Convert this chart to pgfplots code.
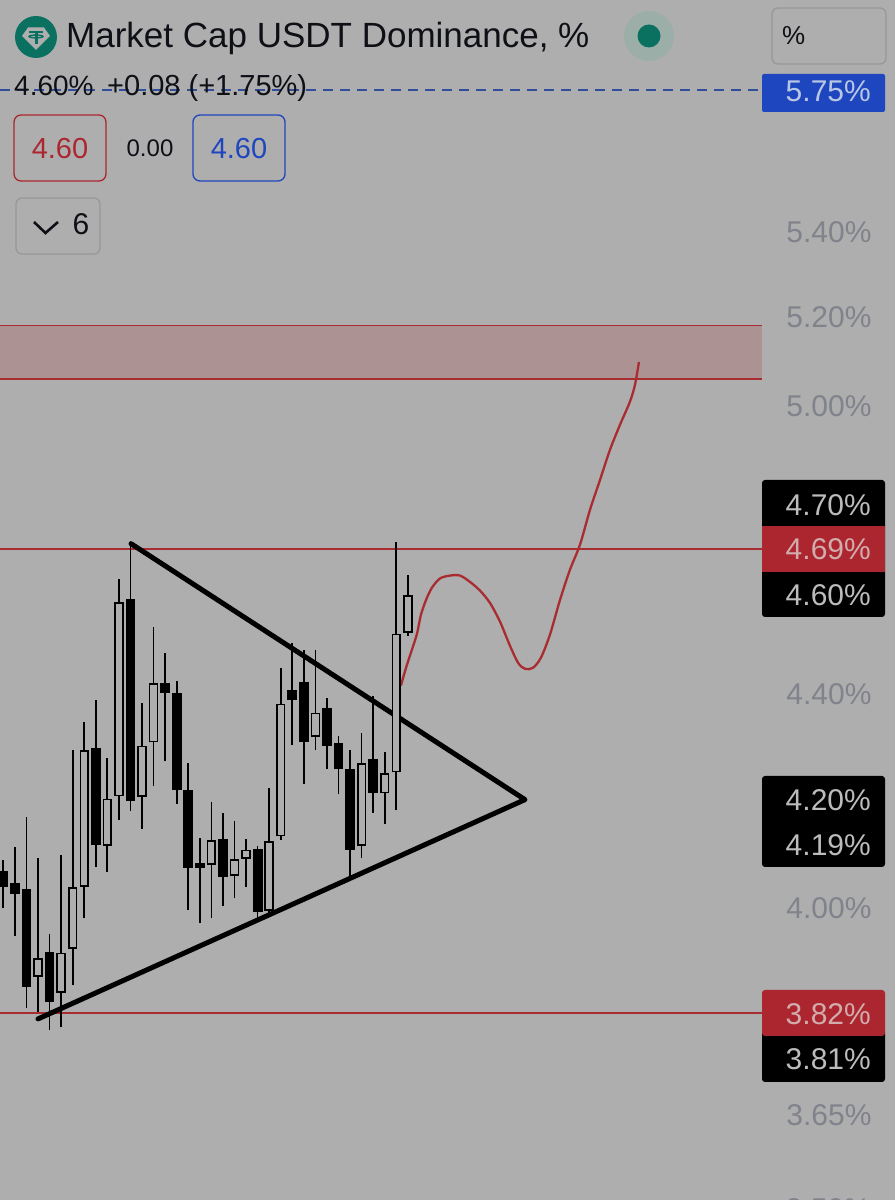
\documentclass[border=0pt]{standalone}
\usepackage{pgfplots}
\pgfplotsset{compat=1.18}
\usepackage{fontspec}
\setmainfont{Liberation Sans}
\definecolor{bg}{RGB}{174,174,174}
\definecolor{redl}{RGB}{168,44,48}
\definecolor{zone}{RGB}{172,146,147}
\definecolor{redbox}{RGB}{172,38,48}
\definecolor{bluebox}{RGB}{30,70,190}
\definecolor{bluel}{RGB}{50,78,155}
\definecolor{tickg}{RGB}{128,131,139}
\definecolor{teal1}{RGB}{10,112,96}
\definecolor{halo}{RGB}{155,175,168}
\definecolor{lab}{RGB}{188,188,188}
\definecolor{labr}{RGB}{210,172,172}
\definecolor{labb}{RGB}{185,198,228}
\definecolor{ink}{RGB}{14,16,22}
\definecolor{boxg}{RGB}{150,151,153}
% candle: index, low, body bottom, body top, high
\newcommand{\bc}[5]{%
  \addplot[black,line width=1.7pt] coordinates {(#1,#2)(#1,#5)};
  \addplot[black,line width=9.8pt] coordinates {(#1,#3)(#1,#4)};}
\newcommand{\wc}[5]{%
  \addplot[black,line width=1.7pt] coordinates {(#1,#2)(#1,#5)};
  \addplot[black,line width=9.4pt] coordinates {(#1,#3)(#1,#4)};
  \addplot[bg,line width=6.2pt,shorten >=1.7pt,shorten <=1.7pt] coordinates {(#1,#3)(#1,#4)};}
\newcommand{\fs}[1]{\fontsize{#1}{#1}\selectfont}
\begin{document}
\begin{tikzpicture}
\useasboundingbox (0,0) rectangle (895pt,1200pt);
\clip (0,0) rectangle (895pt,1200pt);
\begin{axis}[
  at={(0,0)},anchor=south west,
  scale only axis,width=895pt,height=1200pt,
  xmin=-0.285,xmax=77.14,
  ymode=log,ymin=3.513,ymax=5.985,
  axis background/.style={fill=bg},
  axis line style={draw=none},
  xtick=\empty,
  ytick={3.65,4.00,4.40,5.00,5.20,5.40},
  yticklabels={3.65\%,4.00\%,4.40\%,5.00\%,5.20\%,5.40\%},
  ytick pos=right,yticklabel pos=right,
  major tick length=0pt,
  y tick label style={anchor=east,xshift=-20pt,yshift=-1pt,font=\fs{30},text=tickg},
]
% resistance zone
\addplot[draw=none,fill=zone] coordinates {(-0.285,5.058)(65.63,5.058)(65.63,5.179)(-0.285,5.179)} -- cycle;
\addplot[redl,line width=1.4pt] coordinates {(-0.285,5.179)(65.63,5.179)};
\addplot[redl,line width=1.4pt] coordinates {(-0.285,5.058)(65.63,5.058)};
% horizontal levels
\addplot[redl,line width=1.3pt] coordinates {(-0.285,4.69)(65.63,4.69)};
\addplot[redl,line width=1.3pt] coordinates {(-0.285,3.817)(65.63,3.817)};
\addplot[bluel,line width=1.5pt,dash pattern=on 10pt off 7pt] coordinates {(-0.285,5.75)(65.63,5.75)};
% triangle
\addplot[black,line width=5pt,line cap=round,line join=round] coordinates {(11.05,4.701)(45.13,4.196)(3.00,3.807)};
% projected path
\addplot[redl,line width=2.3pt,smooth] coordinates {
(34.40,4.414)(34.84,4.449)(35.35,4.485)(35.79,4.517)(36.13,4.555)(36.57,4.585)(37.08,4.610)(37.78,4.629)
(38.64,4.635)(39.51,4.635)(40.37,4.622)(41.24,4.604)(42.10,4.579)(42.97,4.541)(43.83,4.493)(44.53,4.459)
(45.13,4.447)(45.82,4.449)(46.51,4.469)(47.29,4.515)(48.16,4.585)(49.02,4.647)(49.89,4.699)(50.75,4.772)
(51.62,4.836)(52.48,4.901)(53.35,4.956)(54.21,5.007)(54.65,5.045)(54.99,5.096)};
% candles
\bc{0}{3.999}{4.036}{4.065}{4.085}
\bc{1}{3.950}{4.024}{4.044}{4.108}
\bc{2}{3.825}{3.862}{4.033}{4.163}
\wc{3}{3.819}{3.879}{3.912}{4.088}
\bc{4}{3.788}{3.836}{3.922}{3.954}
\wc{5}{3.793}{3.852}{3.921}{4.094}
\wc{6}{3.865}{3.928}{4.036}{4.290}
\wc{7}{3.981}{4.037}{4.289}{4.344}
\bc{8}{4.073}{4.113}{4.294}{4.385}
\wc{9}{4.064}{4.111}{4.198}{4.274}
\wc{10}{4.159}{4.202}{4.580}{4.628}
\bc{11}{4.175}{4.194}{4.587}{4.702}
\wc{12}{4.142}{4.201}{4.298}{4.380}
\wc{13}{4.222}{4.304}{4.419}{4.531}
\bc{14}{4.268}{4.400}{4.419}{4.478}
\bc{15}{4.188}{4.215}{4.399}{4.424}
\bc{16}{3.996}{4.071}{4.214}{4.264}
\bc{17}{3.972}{4.071}{4.079}{4.125}
\wc{18}{3.981}{4.076}{4.121}{4.191}
\bc{19}{4.002}{4.054}{4.124}{4.171}
\wc{20}{4.016}{4.056}{4.087}{4.156}
\wc{21}{4.037}{4.087}{4.104}{4.123}
\bc{22}{3.981}{3.992}{4.105}{4.111}
\wc{23}{3.987}{3.995}{4.119}{4.217}
\wc{24}{4.122}{4.128}{4.379}{4.448}
\bc{25}{4.299}{4.385}{4.406}{4.498}
\bc{26}{4.226}{4.305}{4.421}{4.485}
\wc{27}{4.290}{4.314}{4.361}{4.485}
\bc{28}{4.254}{4.298}{4.370}{4.389}
\bc{29}{4.207}{4.253}{4.302}{4.317}
\bc{30}{4.052}{4.104}{4.253}{4.290}
\wc{31}{4.088}{4.111}{4.265}{4.322}
\bc{32}{4.172}{4.209}{4.272}{4.394}
\wc{33}{4.151}{4.208}{4.246}{4.285}
\wc{34}{4.176}{4.247}{4.517}{4.704}
\wc{35}{4.513}{4.518}{4.595}{4.637}
\end{axis}
\begin{scope}[x=1pt,y=-1pt,shift={(0,1200pt)}]
% header
\fill[teal1] (36,37) circle (21);
\fill[bg] (28,27.5)--(44,27.5)--(50,36)--(36,50)--(22,36)--cycle;
\fill[teal1] (29,31) rectangle (43,33.5);
\fill[teal1] (34.5,33) rectangle (37.5,44);
\draw[teal1,line width=1.4pt] (36,36.5) ellipse (7 and 1.4);
\node[anchor=base west,inner sep=0,text=ink,font=\fs{35}] at (66,48) {Market Cap USDT Dominance, \%};
\fill[halo] (649,36) circle (25);
\fill[teal1] (649,36) circle (11.5);
\draw[boxg,line width=1.2pt,rounded corners=6pt] (772,8) rectangle (886,64);
\node[anchor=west,inner sep=0,text=ink,font=\fs{26}] at (782,36) {\%};
% status line
\node[anchor=base west,inner sep=0,text=ink,font=\fs{28}] at (14,95.5) {4.60\%};
\node[anchor=base west,inner sep=0,text=ink,font=\fs{29}] at (107,95.5) {+0.08 (+1.75\%)};
% buttons
\draw[redbox,line width=1.3pt,rounded corners=7pt] (14,115) rectangle (106,181);
\node[text=redbox,font=\fs{29}] at (60,149) {4.60};
\node[text=ink,font=\fs{24}] at (150,148) {0.00};
\draw[bluebox,line width=1.3pt,rounded corners=7pt] (193,115) rectangle (285,181);
\node[text=bluebox,font=\fs{29}] at (239,149) {4.60};
\draw[boxg,line width=1.2pt,rounded corners=6pt] (16,198) rectangle (100,254);
\draw[ink,line width=2.6pt] (34,222)--(45.5,233)--(58,222);
\node[text=ink,font=\fs{30}] at (81,224) {6};
% price tags
\fill[bluebox,rounded corners=2pt] (762,74) rectangle (885,112);
\node[anchor=east,inner sep=0,text=labb,font=\fs{30}] at (871,91) {5.75\%};
\fill[black,rounded corners=3pt] (762,480) rectangle (885,617);
\fill[redbox] (762,526) rectangle (885,572);
\node[anchor=east,inner sep=0,text=lab,font=\fs{30}] at (871,505.5) {4.70\%};
\node[anchor=east,inner sep=0,text=labr,font=\fs{30}] at (871,549.5) {4.69\%};
\node[anchor=east,inner sep=0,text=lab,font=\fs{30}] at (871,595.5) {4.60\%};
\fill[black,rounded corners=3pt] (762,776) rectangle (885,867);
\node[anchor=east,inner sep=0,text=lab,font=\fs{30}] at (871,800.5) {4.20\%};
\node[anchor=east,inner sep=0,text=lab,font=\fs{30}] at (871,845.5) {4.19\%};
\fill[black,rounded corners=3pt] (762,1030) rectangle (885,1082);
\fill[redbox,rounded corners=3pt] (762,990) rectangle (885,1036);
\node[anchor=east,inner sep=0,text=labr,font=\fs{30}] at (871,1014.5) {3.82\%};
\node[anchor=east,inner sep=0,text=lab,font=\fs{30}] at (871,1059.5) {3.81\%};
\node[anchor=east,inner sep=0,text=tickg,font=\fs{30}] at (871,1209) {3.50\%};
\end{scope}
\end{tikzpicture}
\end{document}
